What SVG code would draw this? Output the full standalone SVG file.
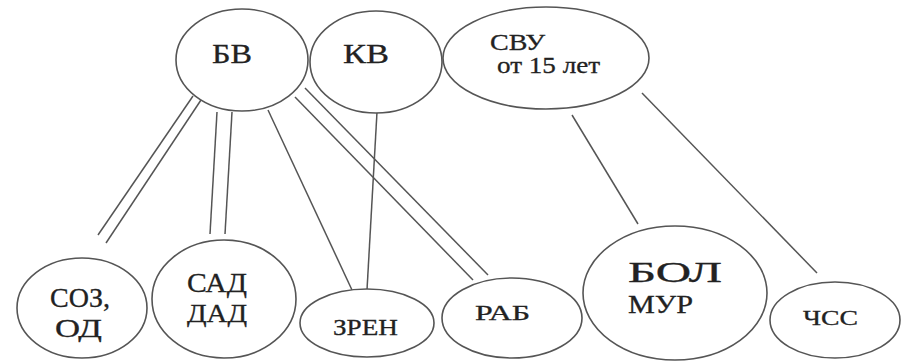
<svg xmlns="http://www.w3.org/2000/svg" width="902" height="361" viewBox="0 0 902 361" font-family="Liberation Serif, DejaVu Serif, Times New Roman, serif">
<style>
.n{fill:#fff;stroke:#555;stroke-width:1.6}
.c{stroke:#555;stroke-width:1.5;fill:none}
.t{fill:#222;stroke:#222;stroke-width:0.3}
</style>
<rect width="902" height="361" fill="#fff"/>
<g id="connectors">
<line class="c" x1="193" y1="96" x2="98" y2="235"/>
<line class="c" x1="201" y1="100" x2="106" y2="243"/>
<line class="c" x1="217" y1="112" x2="210" y2="234"/>
<line class="c" x1="232" y1="112" x2="225" y2="234"/>
<line class="c" x1="268" y1="110" x2="352" y2="290"/>
<line class="c" x1="377" y1="112" x2="367" y2="290"/>
<line class="c" x1="295" y1="97" x2="473" y2="280"/>
<line class="c" x1="305" y1="88" x2="488" y2="275"/>
<line class="c" x1="572" y1="115" x2="638" y2="224"/>
<line class="c" x1="642" y1="93" x2="817" y2="273" stroke="#666"/>
</g>
<g id="BV"><ellipse class="n" cx="242" cy="60" rx="66" ry="51"/><text class="t" font-family="Liberation Serif" x="212" y="63" font-size="28" textLength="40" lengthAdjust="spacingAndGlyphs">БВ</text></g>
<g id="KV"><ellipse class="n" cx="376" cy="62" rx="66" ry="51"/><text class="t" font-family="Liberation Serif" x="343" y="63" font-size="28" textLength="46" lengthAdjust="spacingAndGlyphs">КВ</text></g>
<g id="SVU"><ellipse class="n" cx="546" cy="58" rx="103" ry="51"/><text class="t" font-family="Liberation Serif" x="490" y="50" font-size="24" textLength="55" lengthAdjust="spacingAndGlyphs">СВУ</text><text class="t" font-family="Liberation Serif" x="497" y="73" font-size="24" textLength="103" lengthAdjust="spacingAndGlyphs">от 15 лет</text></g>
<g id="SOZ"><ellipse class="n" cx="82" cy="308" rx="65" ry="50"/><text class="t" font-family="Liberation Serif" x="50" y="307" font-size="27" textLength="60" lengthAdjust="spacingAndGlyphs">СОЗ,</text><text class="t" font-family="Liberation Serif" x="55" y="337" font-size="25" textLength="47" lengthAdjust="spacingAndGlyphs">ОД</text></g>
<g id="SAD"><ellipse class="n" cx="224" cy="299" rx="72" ry="59"/><text class="t" font-family="Liberation Serif" x="187" y="292" font-size="28" textLength="60" lengthAdjust="spacingAndGlyphs">САД</text><text class="t" font-family="Liberation Serif" x="187" y="322" font-size="26" textLength="60" lengthAdjust="spacingAndGlyphs">ДАД</text></g>
<g id="ZREN"><ellipse class="n" cx="367" cy="323" rx="67" ry="34"/><text class="t" font-family="Liberation Serif" x="333" y="335" font-size="24" textLength="65" lengthAdjust="spacingAndGlyphs">ЗРЕН</text></g>
<g id="RAB"><ellipse class="n" cx="512" cy="318" rx="70" ry="40"/><text class="t" font-family="Liberation Serif" x="475" y="320" font-size="22" textLength="55" lengthAdjust="spacingAndGlyphs">РАБ</text></g>
<g id="BOL"><ellipse class="n" cx="675" cy="293" rx="92" ry="67"/><text class="t" font-family="Liberation Serif" x="628" y="282" font-size="29" textLength="94" lengthAdjust="spacingAndGlyphs">БОЛ</text><text class="t" font-family="Liberation Serif" x="628" y="313" font-size="26" textLength="65" lengthAdjust="spacingAndGlyphs">МУР</text></g>
<g id="CHSS"><ellipse class="n" cx="835" cy="320" rx="65" ry="38"/><text class="t" font-family="Liberation Serif" x="803" y="325" font-size="22" textLength="55" lengthAdjust="spacingAndGlyphs">ЧСС</text></g>
</svg>
